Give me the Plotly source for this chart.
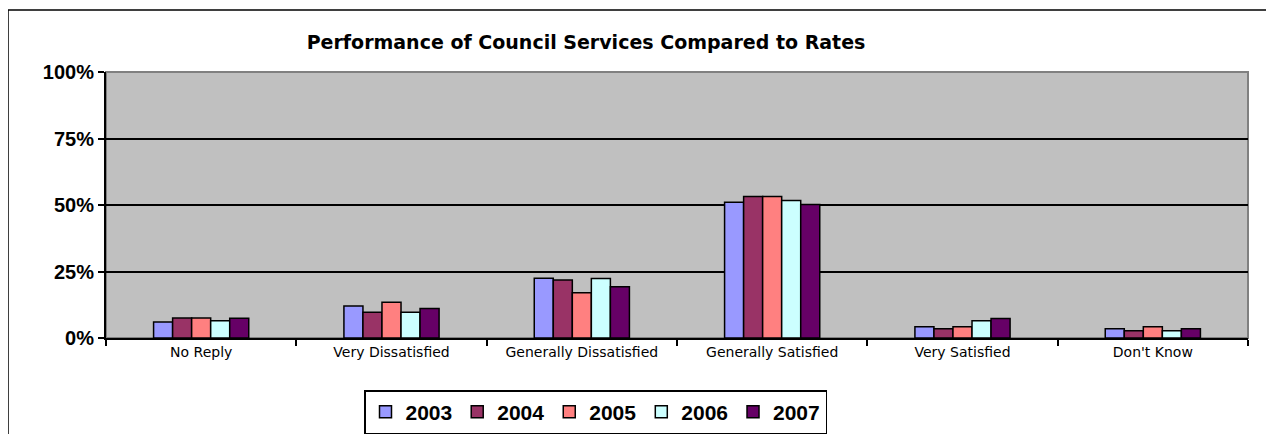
import plotly.graph_objects as go

categories = ["No Reply", "Very Dissatisfied", "Generally Dissatisfied",
              "Generally Satisfied", "Very Satisfied", "Don't Know"]
years = ["2003", "2004", "2005", "2006", "2007"]
values_2003 = [6.0, 12.0, 22.5, 51.0, 4.2, 3.5]
values_2004 = [7.5, 9.7, 21.8, 53.2, 3.5, 2.7]
values_2005 = [7.5, 13.4, 17.0, 53.2, 4.2, 4.2]
values_2006 = [6.5, 9.7, 22.4, 51.7, 6.5, 2.7]
values_2007 = [7.4, 11.1, 19.3, 50.2, 7.3, 3.5]
series = [values_2003, values_2004, values_2005, values_2006, values_2007]
colors = ["#9999FF", "#993366", "#FF8080", "#CCFFFF", "#660066"]
ytick_vals = [0, 25, 50, 75, 100]
ytick_text = ["0%", "25%", "50%", "75%", "100%"]

FONT = "Liberation Sans, Arial, sans-serif"
WIDE = "DejaVu Sans, Verdana, sans-serif"

fig = go.Figure()
for name, vals, col in zip(years, series, colors):
    fig.add_trace(go.Bar(
        x=categories, y=vals, name=name,
        marker=dict(color=col, line=dict(color="black", width=1.5)),
    ))

# page body has an 8px margin; work in page coords and offset
OFF = 8
W, H = 1274 - OFF, 434 - OFF
L, R, T, B = 106 - OFF, 1248 - OFF, 72 - OFF, 338 - OFF
pw, ph = R - L, B - T

fig.update_layout(
    width=W, height=H,
    margin=dict(l=L, r=W - R, t=T, b=H - B, autoexpand=False),
    paper_bgcolor="white",
    plot_bgcolor="#C0C0C0",
    barmode="group",
    bargap=0.5,
    bargroupgap=0,
    font=dict(family=FONT, color="black"),
    title=dict(
        text="<b>Performance of Council Services Compared to Rates</b>",
        x=(586 - OFF) / W, xanchor="center",
        y=1 - (42 - OFF) / H, yanchor="middle",
        font=dict(size=19, family=WIDE, color="black"),
    ),
    xaxis=dict(
        type="category",
        tickson="boundaries",
        ticks="outside", ticklen=6, tickcolor="black", tickwidth=2,
        showline=True, linecolor="black", linewidth=2,
        tickfont=dict(size=14, family=WIDE, color="black"),
        showgrid=False,
        range=[-0.5, 5.5],
    ),
    yaxis=dict(
        range=[0, 100],
        tickvals=ytick_vals, ticktext=ytick_text,
        ticks="outside", ticklen=6, tickcolor="black", tickwidth=2,
        showline=True, linecolor="black", linewidth=2,
        showgrid=True, gridcolor="black", gridwidth=2,
        zeroline=False,
        tickfont=dict(size=20, family=FONT, color="black", weight="bold"),
    ),
    showlegend=True,
    legend=dict(
        orientation="h",
        x=(364 - 106) / pw, xanchor="left",
        y=(338 - 390) / ph, yanchor="top",
        bordercolor="black", borderwidth=1.5,
        bgcolor="white",
        font=dict(size=21, family=FONT, color="black", weight="bold"),
        traceorder="normal",
        itemwidth=30,
    ),
    shapes=[
        # outer chart border
        dict(type="rect", xref="paper", yref="paper",
             x0=(8 - 106) / pw, x1=(1270 - 106) / pw,
             y0=(338 - 460) / ph, y1=(338 - 10) / ph,
             line=dict(color="black", width=1.5), layer="below"),
        # plot area border (gray top/right)
        dict(type="rect", xref="paper", yref="paper",
             x0=0, x1=1, y0=0, y1=1,
             line=dict(color="#808080", width=2), layer="below"),
    ],
)

fig.write_html("out.html")
